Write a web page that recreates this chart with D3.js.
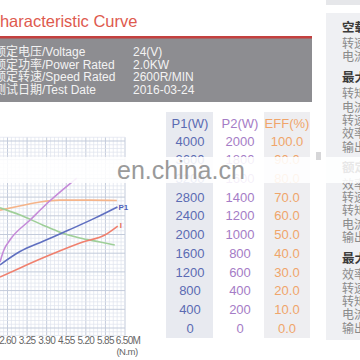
<!DOCTYPE html>
<html><head><meta charset="utf-8">
<script src="https://cdn.jsdelivr.net/npm/d3@7"></script>
<style>body{margin:0;background:#fff;overflow:hidden}svg{display:block}</style>
</head><body>
<script>
// ---- data ----
const titleText = "Characteristic Curve";
const infoLabels = ["额定电压/Voltage","额定功率/Power Rated","额定转速/Speed Rated","测试日期/Test Date"];
const infoValues = ["24(V)","2.0KW","2600R/MIN","2016-03-24"];

const torqueTicks = [2.60,3.25,3.90,4.55,5.20,5.85,6.50];
const tickLabels = ["2.60","3.25","3.90","4.55","5.20","5.85","6.50M"];
const torqueUnit = "(N.m)";

const tableHeaders = ["P1(W)","P2(W)","EFF(%)"];
const p1Rows = [4000,3600,3200,2800,2400,2000,1600,1200,800,400,0];
const p2Rows = [2000,1800,1600,1400,1200,1000,800,600,400,200,0];
const effRows = ["100.0","90.0","80.0","70.0","60.0","50.0","40.0","30.0","20.0","10.0","0.0"];

const p1Torque = [2.35,3.0,3.8,4.65,5.5,6.25];
const p1Values = [1350,1630,1860,2100,2350,2590];
const p2Torque = [2.35,2.48,2.68,3.35,4.0,4.9];
const p2Values = [706,834,941,1155,1358,1604];
const effTorque = [2.35,3.0,3.68,4.34,5.34,6.23];
const effValues = [63.0,65.2,67.4,68.4,68.4,68.2];
const speedTorque = [2.35,3.0,3.78,4.34,5.0,5.67,6.16];
const speedValues = [2570,2420,2200,2050,1925,1840,1775];
const currentTorque = [2.35,3.0,4.0,5.1,5.83,6.26];
const currentValues = [54.5,64,78,92,99.5,109];

const panelHeads = ["空载点","最大输出功率点","额定点","最大效率点"];
const panelRows = [["转速：","电流："],["转矩：","电流：","转速：","效率：","输出："],["效率：","转速：","转矩：","电流：","输出："],["效率：","转速：","转矩：","电流：","输出："]];
const watermark = "en.china.cn";

// ---- drawing ----
const W = 360, H = 360;
const FONT = "'Liberation Sans', Arial, 'Noto Sans CJK SC', sans-serif";
const svg = d3.select("body").append("svg").attr("width", W).attr("height", H)
  .style("font-family", FONT);
svg.append("rect").attr("width", W).attr("height", H).attr("fill", "#fff");

// title
svg.append("text").attr("x", -12).attr("y", 27).attr("font-size", 16.5)
  .attr("fill", "#de5a4e").text(titleText);

// info box
svg.append("rect").attr("x", 0).attr("y", 37).attr("width", 312).attr("height", 65).attr("fill", "#8d8d91");
svg.append("rect").attr("x", 0).attr("y", 36).attr("width", 312).attr("height", 2.5).attr("fill", "#c4403f");
const infoY = d3.scaleLinear().domain([0, 3]).range([56, 94]);
svg.selectAll("text.il").data(infoLabels).join("text").attr("class", "il")
  .attr("x", -6).attr("y", (d, i) => infoY(i)).attr("font-size", 12).attr("fill", "#f3f3f3").text(d => d);
svg.selectAll("text.iv").data(infoValues).join("text").attr("class", "iv")
  .attr("x", 133).attr("y", (d, i) => infoY(i)).attr("font-size", 12).attr("fill", "#f3f3f3").text(d => d);

// chart scales
const x = d3.scaleLinear().domain([2.6, 6.5]).range([7.5, 125]);
const yP1 = d3.scaleLinear().domain([0, 4000]).range([328, 141]);
const yP2 = d3.scaleLinear().domain([0, 2000]).range([328, 141]);
const yEff = d3.scaleLinear().domain([0, 100]).range([328, 141]);
const ySpeed = d3.scaleLinear().domain([0, 4000]).range([328, 141]);
const yCur = d3.scaleLinear().domain([0, 200]).range([328, 141]);

const gTop = yP1(4080), gBot = yP1(-160), gLeft = 0, gRight = x(6.5);
const grid = svg.append("g");
grid.append("rect").attr("x", gLeft).attr("y", gTop).attr("width", gRight - gLeft).attr("height", gBot - gTop).attr("fill", "#fff");
const vIdx = d3.range(-2, 31);
grid.selectAll("line.v").data(vIdx).join("line").attr("class", "v")
  .attr("x1", i => x(2.6 + i * 0.13)).attr("x2", i => x(2.6 + i * 0.13))
  .attr("y1", gTop).attr("y2", gBot)
  .attr("stroke", i => i % 5 === 0 ? "#c3cbdb" : "#dfe4ee").attr("stroke-width", i => i % 5 === 0 ? 1 : 0.7);
const hIdx = d3.range(-2, 52);
grid.selectAll("line.h").data(hIdx).join("line").attr("class", "h")
  .attr("y1", i => yP1(i * 80)).attr("y2", i => yP1(i * 80))
  .attr("x1", gLeft).attr("x2", gRight)
  .attr("stroke", i => i % 5 === 0 ? "#c3cbdb" : "#dfe4ee").attr("stroke-width", i => i % 5 === 0 ? 1 : 0.7);

// x tick labels
svg.selectAll("text.xt").data(torqueTicks).join("text").attr("class", "xt")
  .attr("x", (d, i) => x(d) + (i === torqueTicks.length - 1 ? 3 : 0)).attr("y", 344)
  .attr("text-anchor", "middle").attr("font-size", 10).attr("letter-spacing", -0.7)
  .attr("fill", "#666").text((d, i) => tickLabels[i]);
svg.append("text").attr("x", x(6.5) + 2).attr("y", 355).attr("text-anchor", "middle")
  .attr("font-size", 9.5).attr("letter-spacing", -0.5).attr("fill", "#666").text(torqueUnit);

// curves
function drawCurve(tx, vals, ys, color) {
  const pts = tx.map((t, i) => [x(t), ys(vals[i])]);
  svg.append("path").attr("d", d3.line().curve(d3.curveMonotoneX)(pts))
    .attr("fill", "none").attr("stroke", color).attr("stroke-width", 1.6);
  return pts[pts.length - 1];
}
drawCurve(effTorque, effValues, yEff, "#f5b48a");
drawCurve(speedTorque, speedValues, ySpeed, "#9fcf98");
const p1End = drawCurve(p1Torque, p1Values, yP1, "#5f6fc0");
drawCurve(p2Torque, p2Values, yP2, "#c58ad8");
const curEnd = drawCurve(currentTorque, currentValues, yCur, "#f0806e");
svg.append("text").attr("x", p1End[0] + 1).attr("y", p1End[1] + 3).attr("font-size", 8).attr("font-weight", "bold")
  .attr("fill", "#4f60b8").text("P1");
svg.append("text").attr("x", curEnd[0] + 2).attr("y", curEnd[1] + 2).attr("font-size", 8).attr("font-weight", "bold")
  .attr("fill", "#e66a5a").text("I");

// table
const rowY = d3.scaleLinear().domain([0, 10]).range([141, 328]);
svg.append("rect").attr("x", 166).attr("y", 112).attr("width", 47).attr("height", 226).attr("fill", "#e8eaf0");
svg.append("rect").attr("x", 264).attr("y", 112).attr("width", 46).attr("height", 226).attr("fill", "#eeeef1");
const colX = [190, 240, 287];
const colColor = ["#5b6bb3", "#a57cc6", "#f0a56a"];
svg.selectAll("text.th").data(tableHeaders).join("text").attr("class", "th")
  .attr("x", (d, i) => colX[i]).attr("y", 123).attr("dy", "0.36em").attr("text-anchor", "middle")
  .attr("font-size", 13).attr("fill", (d, i) => colColor[i]).text(d => d);
[p1Rows, p2Rows, effRows].forEach((col, c) => {
  svg.selectAll("text.c" + c).data(col).join("text").attr("class", "c" + c)
    .attr("x", colX[c]).attr("y", (d, i) => rowY(i)).attr("dy", "0.36em").attr("text-anchor", "middle")
    .attr("font-size", 13).attr("fill", colColor[c]).text(d => d);
});

// right panel
svg.append("rect").attr("x", 326).attr("y", -10).attr("width", 40).attr("height", 15).attr("fill", "#e6e7ea");
svg.append("rect").attr("x", 326).attr("y", 13).attr("width", 40).attr("height", 327).attr("fill", "#eff0f3");
let py = 27;
panelHeads.forEach((h, g) => {
  svg.append("text").attr("x", 342).attr("y", py).attr("dy", "0.36em").attr("font-size", 12.5)
    .attr("font-weight", "bold").attr("fill", "#3a3a3a").text(h);
  py += 16.5;
  panelRows[g].forEach(r => {
    svg.append("text").attr("x", 342).attr("y", py).attr("dy", "0.36em").attr("font-size", 12)
      .attr("fill", "#8a8a8a").text(r);
    py += 13.4;
  });
  py += 7;
});

// watermark band
svg.append("rect").attr("x", 0).attr("y", 157).attr("width", W).attr("height", 26).attr("fill", "#fff").attr("opacity", 0.88);
svg.append("rect").attr("x", 316).attr("y", 152).attr("width", 5).attr("height", 8).attr("fill", "#d6d6d8");
svg.append("text").attr("x", 117).attr("y", 179).attr("font-size", 25).attr("fill", "#9a9a9a").text(watermark);
</script>
</body></html>
